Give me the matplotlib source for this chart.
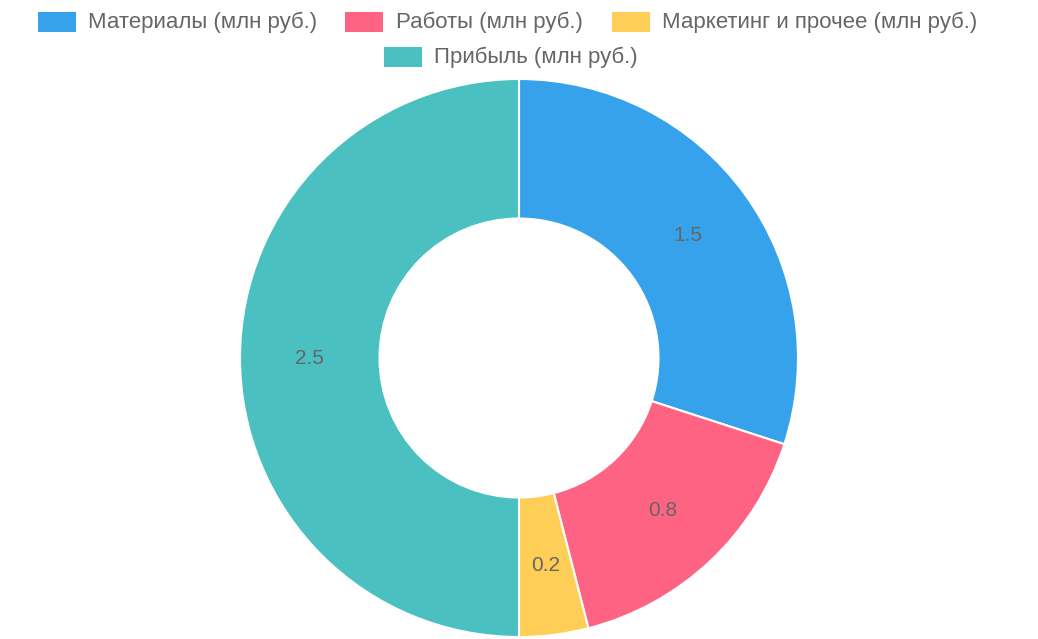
import matplotlib
matplotlib.use("Agg")
import matplotlib.pyplot as plt
from matplotlib.patches import Rectangle

labels = ["Материалы (млн руб.)", "Работы (млн руб.)", "Маркетинг и прочее (млн руб.)", "Прибыль (млн руб.)"]
values = [1.5, 0.8, 0.2, 2.5]
colors = ["#36A2EB", "#FF6384", "#FFCE56", "#4BC0C0"]

W, H = 1038, 639
fig = plt.figure(figsize=(W/100, H/100), dpi=100)
plt.rcParams['font.family'] = ['Liberation Sans', 'DejaVu Sans']

cx, cy, R = 519, 358, 279
ax = fig.add_axes([(cx-R)/W, (H-cy-R)/H, 2*R/W, 2*R/H])
wedges, texts = ax.pie(values, colors=colors, startangle=90, counterclock=False,
                       radius=1, wedgeprops=dict(width=0.5, edgecolor='white', linewidth=1.5))
import numpy as np
tot = sum(values); acc = 0
for v in values:
    mid = 90 - (acc + v/2)/tot*360
    acc += v
    ax.text(0.75*np.cos(np.radians(mid)), 0.75*np.sin(np.radians(mid)), f"{v}",
            ha='center', va='center', fontsize=15, color='#666666')
ax.set_xlim(-1, 1); ax.set_ylim(-1, 1); ax.axis('off')

leg = [(38, 22, 88), (345, 22, 396), (612, 22, 662), (384, 57, 434)]
for (bx, by, tx), lab, c in zip(leg, labels, colors):
    fig.patches.append(Rectangle((bx/W, (H-by-10)/H), 38/W, 20/H, transform=fig.transFigure,
                                 facecolor=c, edgecolor='none'))
    fig.text(tx/W, (H-by)/H, lab, ha='left', va='center', fontsize=16, color='#666666')

fig.savefig("out.png", dpi=100)
